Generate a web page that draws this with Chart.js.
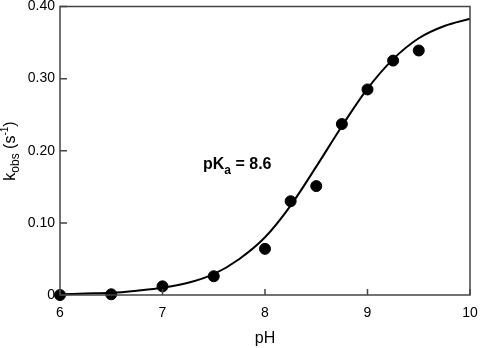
<!DOCTYPE html>
<html>
<head>
<meta charset="utf-8">
<script src="https://cdn.jsdelivr.net/npm/chart.js@4/dist/chart.umd.min.js"></script>
<style>
  html, body { margin: 0; padding: 0; background: #fff; }
  #wrap { width: 482px; height: 348px; position: relative; }
</style>
</head>
<body>
<div id="wrap"><canvas id="kobsChart"></canvas></div>
<script>
// measured points
const phValues = [6.0, 6.5, 7.0, 7.5, 8.0, 8.25, 8.5, 8.75, 9.0, 9.25, 9.5];
const kobsValues = [0.000, 0.001, 0.012, 0.026, 0.064, 0.130, 0.151, 0.237, 0.285, 0.325, 0.339];

// fitted curve
const fitPh = [6.0, 6.25, 6.5, 6.75, 7.0, 7.25, 7.5, 7.75, 8.0, 8.25, 8.5, 8.75, 9.0, 9.25, 9.5, 9.75, 10.0];
const fitKobs = [0.001, 0.002, 0.003, 0.006, 0.010, 0.017, 0.029, 0.050, 0.080, 0.124, 0.178, 0.234, 0.286, 0.327, 0.356, 0.373, 0.383];

const xTicks = [6, 7, 8, 9, 10];
const yTicks = [0, 0.1, 0.2, 0.3, 0.4];

const FONT = '"Liberation Sans", Arial, Helvetica, sans-serif';

const framePlugin = {
    id: 'frame',
    afterDraw(chart) {
        const ctx = chart.ctx;
        const a = chart.chartArea;
        const xs = chart.scales.x, ys = chart.scales.y;
        ctx.save();
        ctx.strokeStyle = '#444';
        ctx.lineWidth = 1.5;
        ctx.strokeRect(a.left, a.top, a.right - a.left, a.bottom - a.top);

        // inward tick marks
        ctx.beginPath();
        xTicks.forEach(v => {
            const px = xs.getPixelForValue(v);
            ctx.moveTo(px, a.bottom);
            ctx.lineTo(px, a.bottom - 6);
        });
        yTicks.forEach(v => {
            const py = ys.getPixelForValue(v);
            ctx.moveTo(a.left, py);
            ctx.lineTo(a.left + 7, py);
        });
        ctx.stroke();

        ctx.fillStyle = '#000';
        // x title
        ctx.font = '16px ' + FONT;
        ctx.textAlign = 'center';
        ctx.textBaseline = 'alphabetic';
        ctx.fillText('pH', (a.left + a.right) / 2, 343);

        // y title with sub/superscript
        ctx.translate(15, 151);
        ctx.rotate(-Math.PI / 2);
        const parts = [
            { t: 'k', size: 16, dy: 0 },
            { t: 'obs', size: 12, dy: 4 },
            { t: ' (s', size: 16, dy: 0 },
            { t: '-1', size: 10, dy: -7 },
            { t: ')', size: 16, dy: 0 }
        ];
        let total = 0;
        parts.forEach(p => { ctx.font = p.size + 'px ' + FONT; total += ctx.measureText(p.t).width; });
        let x = -total / 2;
        ctx.textAlign = 'left';
        parts.forEach(p => {
            ctx.font = p.size + 'px ' + FONT;
            ctx.fillText(p.t, x, p.dy);
            x += ctx.measureText(p.t).width;
        });
        ctx.restore();

        // pKa annotation
        ctx.save();
        ctx.fillStyle = '#000';
        ctx.textBaseline = 'alphabetic';
        ctx.textAlign = 'left';
        const ann = [
            { t: 'pK', size: 16, dy: 0 },
            { t: 'a', size: 12, dy: 5 },
            { t: ' = 8.6', size: 16, dy: 0 }
        ];
        let ax = 203;
        ann.forEach(p => {
            ctx.font = 'bold ' + p.size + 'px ' + FONT;
            ctx.fillText(p.t, ax, 169 + p.dy);
            ax += ctx.measureText(p.t).width;
        });
        ctx.restore();
    }
};

new Chart(document.getElementById('kobsChart'), {
    type: 'scatter',
    data: {
        datasets: [
            {
                label: 'data',
                data: phValues.map((v, i) => ({ x: v, y: kobsValues[i] })),
                backgroundColor: '#000',
                borderColor: '#000',
                pointRadius: 5.5,
                pointHoverRadius: 5.5,
                showLine: false,
                clip: false
            },
            {
                label: 'fit',
                data: fitPh.map((v, i) => ({ x: v, y: fitKobs[i] })),
                borderColor: '#000',
                borderWidth: 2,
                pointRadius: 0,
                showLine: true,
                cubicInterpolationMode: 'monotone',
                clip: false
            }
        ]
    },
    options: {
        responsive: true,
        maintainAspectRatio: false,
        animation: false,
        layout: { padding: { top: 6, right: 12, left: 0, bottom: 0 } },
        plugins: {
            legend: { display: false },
            tooltip: { enabled: false }
        },
        scales: {
            x: {
                type: 'linear',
                min: 6,
                max: 10,
                afterBuildTicks: s => { s.ticks = xTicks.map(v => ({ value: v })); },
                afterFit: s => { s.height = 53; s.paddingLeft = 0; s.paddingRight = 0; },
                ticks: {
                    padding: 10,
                    color: '#000',
                    font: { family: FONT, size: 14 },
                    maxRotation: 0
                },
                grid: { display: false, drawTicks: false },
                border: { display: false }
            },
            y: {
                type: 'linear',
                min: 0,
                max: 0.4,
                afterBuildTicks: s => { s.ticks = yTicks.map(v => ({ value: v })); },
                afterFit: s => { s.width = 60; s.paddingTop = 0; s.paddingBottom = 0; },
                ticks: {
                    padding: 5,
                    color: '#000',
                    font: { family: FONT, size: 14 },
                    callback: v => v === 0 ? '0' : v.toFixed(2)
                },
                grid: { display: false, drawTicks: false },
                border: { display: false }
            }
        }
    },
    plugins: [framePlugin]
});
</script>
</body>
</html>
